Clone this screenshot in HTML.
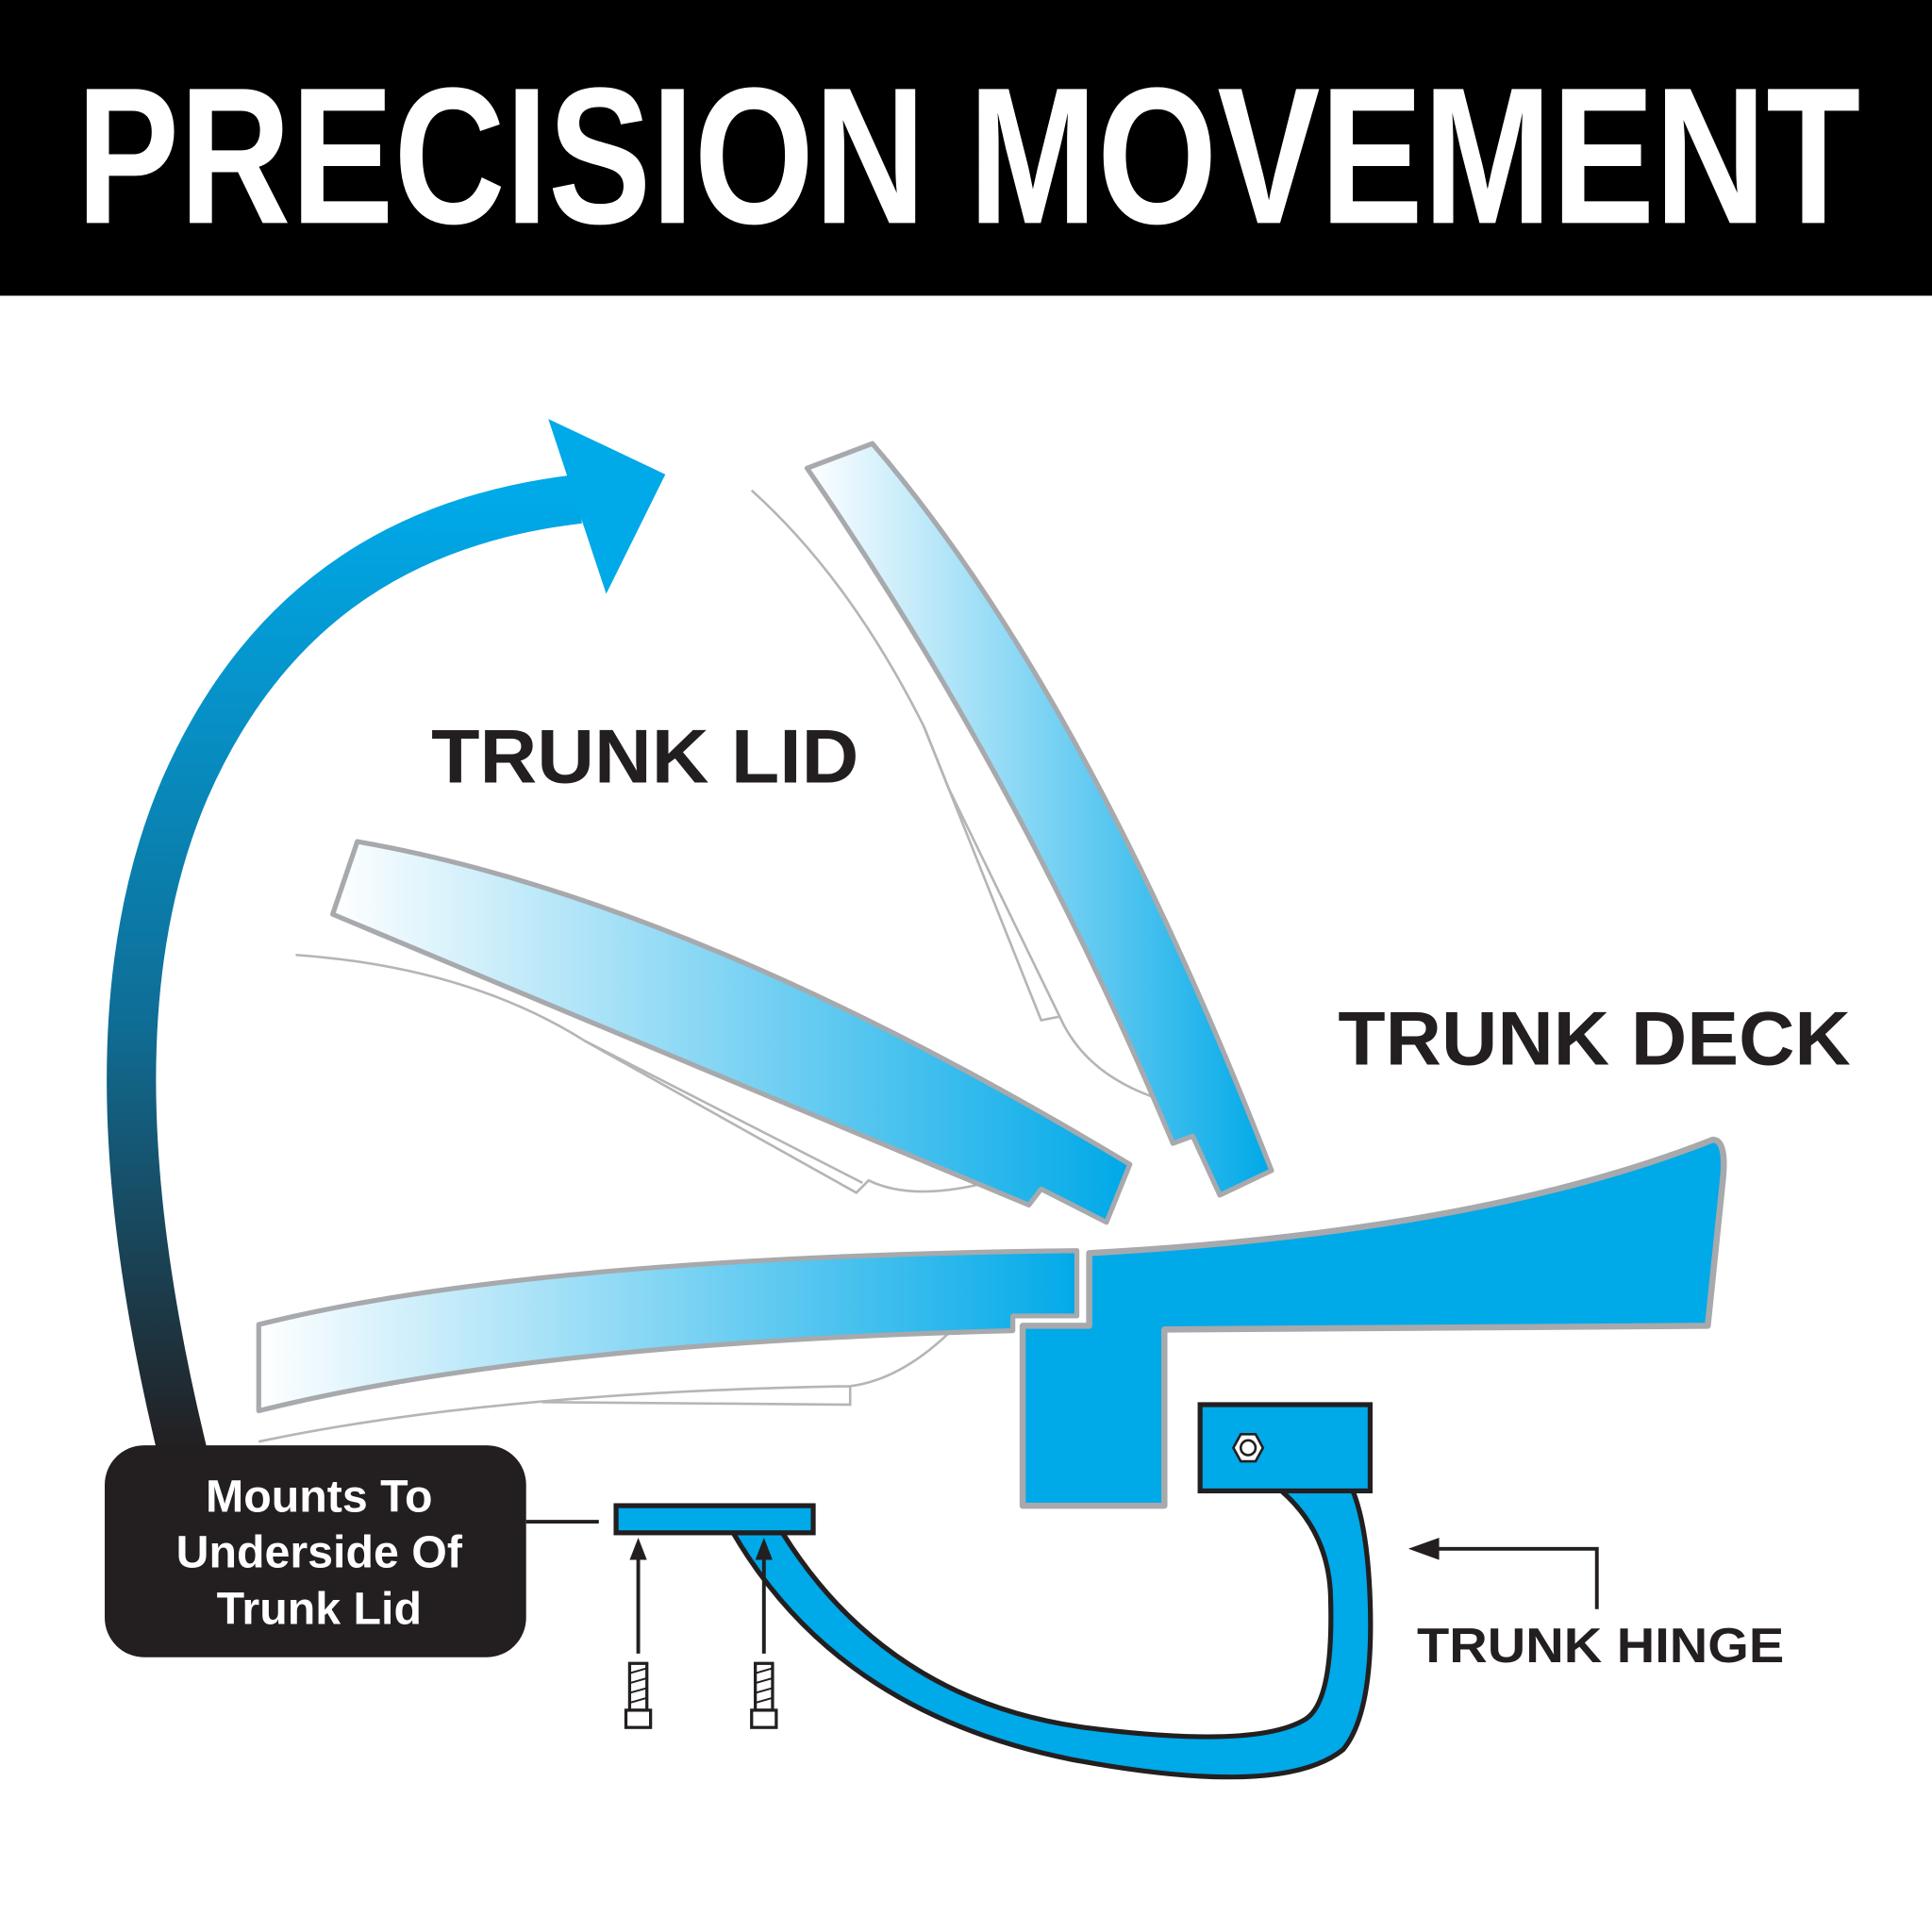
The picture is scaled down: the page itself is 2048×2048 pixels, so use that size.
<!DOCTYPE html>
<html><head><meta charset="utf-8"><style>
html,body{margin:0;padding:0;background:#fff;}
svg{display:block}
</style></head><body>
<svg width="2048" height="2048" viewBox="0 0 1568 1568" xmlns="http://www.w3.org/2000/svg">
<defs>
<linearGradient id="arr" x1="0" y1="1" x2="0" y2="0" gradientUnits="objectBoundingBox">
<stop offset="0" stop-color="#231f20"/><stop offset="0.45" stop-color="#0f6d95"/><stop offset="1" stop-color="#00a9e8"/></linearGradient>
<linearGradient id="g1" x1="655" y1="380" x2="1030" y2="380" gradientUnits="userSpaceOnUse">
<stop offset="0" stop-color="#fff"/><stop offset="1" stop-color="#00a9e8"/></linearGradient>
<linearGradient id="g2" x1="270" y1="0" x2="915" y2="0" gradientUnits="userSpaceOnUse">
<stop offset="0" stop-color="#fff"/><stop offset="1" stop-color="#00a9e8"/></linearGradient>
<linearGradient id="g3" x1="210" y1="0" x2="880" y2="0" gradientUnits="userSpaceOnUse">
<stop offset="0" stop-color="#fff"/><stop offset="1" stop-color="#00a9e8"/></linearGradient>
</defs>
<rect x="0" y="0" width="1568" height="240" fill="#000"/>
<text x="62" y="181" fill="#fff" font-family="Liberation Sans Narrow, Liberation Sans, sans-serif" font-weight="bold" font-size="158" textLength="1448" lengthAdjust="spacingAndGlyphs">PRECISION MOVEMENT</text>

<!-- big arrow -->
<path d="M148 1178 C 95 960, 90 780, 150 640 C 220 480, 340 420, 470 405" fill="none" stroke="url(#arr)" stroke-width="40"/>
<polygon points="445,340 540,385 492,482" fill="#00a9e8"/>

<!-- thin lines -->
<g fill="none" stroke="#b5b5b5" stroke-width="2">
<path d="M610 398 Q690 470 750 590 L845 828 L860 825 Q880 870 935 890"/>
<path d="M750 590 L770 640 L860 825"/>
<path d="M240 775 Q380 785 475 845 L695 968 L705 958 Q740 975 800 960"/>
<path d="M475 845 L700 960"/>
<path d="M210 1170 Q400 1130 690 1125 L690 1140 L440 1138 M690 1125 Q730 1120 770 1082"/>
</g>

<!-- upper lid -->
<path d="M655 380 L708 360 Q880 560 1032 950 L990 970 L968 922 L952 928 L940 900 Q820 620 655 380 Z" fill="url(#g1)" stroke="#a7a9ac" stroke-width="4" stroke-linejoin="round"/>
<!-- middle lid -->
<path d="M290 683 Q560 730 917 945 L898 992 L845 965 L835 978 L270 742 Z" fill="url(#g2)" stroke="#a7a9ac" stroke-width="4" stroke-linejoin="round"/>
<!-- deck left -->
<path d="M210 1075 Q430 1020 874 1015 L874 1068 L822 1068 L822 1080 Q430 1090 210 1145 Z" fill="url(#g3)" stroke="#a7a9ac" stroke-width="4" stroke-linejoin="round"/>
<!-- deck right -->
<path d="M884 1017 Q1200 1000 1390 925 Q1402 925 1398 960 L1386 1076 L945 1079 L945 1222 L830 1222 L830 1076 L884 1076 Z" fill="#00a9e8" stroke="#a7a9ac" stroke-width="5" stroke-linejoin="round"/>

<!-- hinge -->
<path d="M595 1244 Q680 1390 870 1428 Q1040 1460 1090 1420 Q1115 1390 1112 1300 Q1110 1240 1098 1210 L1040 1210 Q1080 1245 1080 1300 Q1082 1380 1060 1395 Q1020 1420 880 1402 Q720 1380 635 1244 Z" fill="#00a9e8" stroke="#231f20" stroke-width="4"/>
<rect x="500" y="1222" width="160" height="22" fill="#00a9e8" stroke="#231f20" stroke-width="4"/>
<rect x="974" y="1140" width="138" height="70" fill="#00a9e8" stroke="#231f20" stroke-width="4"/>
<polygon points="1001,1175 1007,1164 1019,1164 1025,1175 1019,1186 1007,1186" fill="#fff" stroke="#231f20" stroke-width="2"/>
<circle cx="1013" cy="1175" r="6" fill="none" stroke="#231f20" stroke-width="2"/>

<!-- screw arrows -->
<g stroke="#231f20" stroke-width="3">
<line x1="518" y1="1342" x2="518" y2="1262"/><line x1="620" y1="1342" x2="620" y2="1262"/>
</g>
<polygon points="518,1248 511,1266 525,1266" fill="#231f20"/>
<polygon points="620,1248 613,1266 627,1266" fill="#231f20"/>
<g fill="#fff" stroke="#231f20" stroke-width="2.5">
<rect x="511" y="1350" width="14" height="38"/><rect x="508" y="1388" width="20" height="14"/>
<rect x="613" y="1350" width="14" height="38"/><rect x="610" y="1388" width="20" height="14"/>
</g>
<g stroke="#231f20" stroke-width="1.5">
<line x1="511" y1="1358" x2="525" y2="1354"/><line x1="511" y1="1366" x2="525" y2="1362"/><line x1="511" y1="1374" x2="525" y2="1370"/><line x1="511" y1="1382" x2="525" y2="1378"/>
<line x1="613" y1="1358" x2="627" y2="1354"/><line x1="613" y1="1366" x2="627" y2="1362"/><line x1="613" y1="1374" x2="627" y2="1370"/><line x1="613" y1="1382" x2="627" y2="1378"/>
</g>

<!-- label box -->
<line x1="427" y1="1235" x2="486" y2="1235" stroke="#231f20" stroke-width="3"/>
<rect x="85" y="1173" width="342" height="172" rx="32" fill="#231f20"/>
<g fill="#fff" font-family="Liberation Sans, sans-serif" font-weight="bold" font-size="37" text-anchor="middle">
<text x="259" y="1227">Mounts To</text>
<text x="259" y="1272">Underside Of</text>
<text x="259" y="1318">Trunk Lid</text>
</g>

<!-- trunk hinge pointer -->
<path d="M1296 1306 L1296 1257 L1160 1257" fill="none" stroke="#231f20" stroke-width="3"/>
<polygon points="1143,1257 1168,1248 1168,1266" fill="#231f20"/>

<g fill="#231f20" font-family="Liberation Sans, sans-serif" font-weight="bold">
<text x="350" y="635" font-size="62" textLength="347" lengthAdjust="spacingAndGlyphs">TRUNK LID</text>
<text x="1086" y="864" font-size="62" textLength="416" lengthAdjust="spacingAndGlyphs">TRUNK DECK</text>
<text x="1150" y="1349" font-size="40" textLength="298" lengthAdjust="spacingAndGlyphs">TRUNK HINGE</text>
</g>
</svg>
</body></html>
